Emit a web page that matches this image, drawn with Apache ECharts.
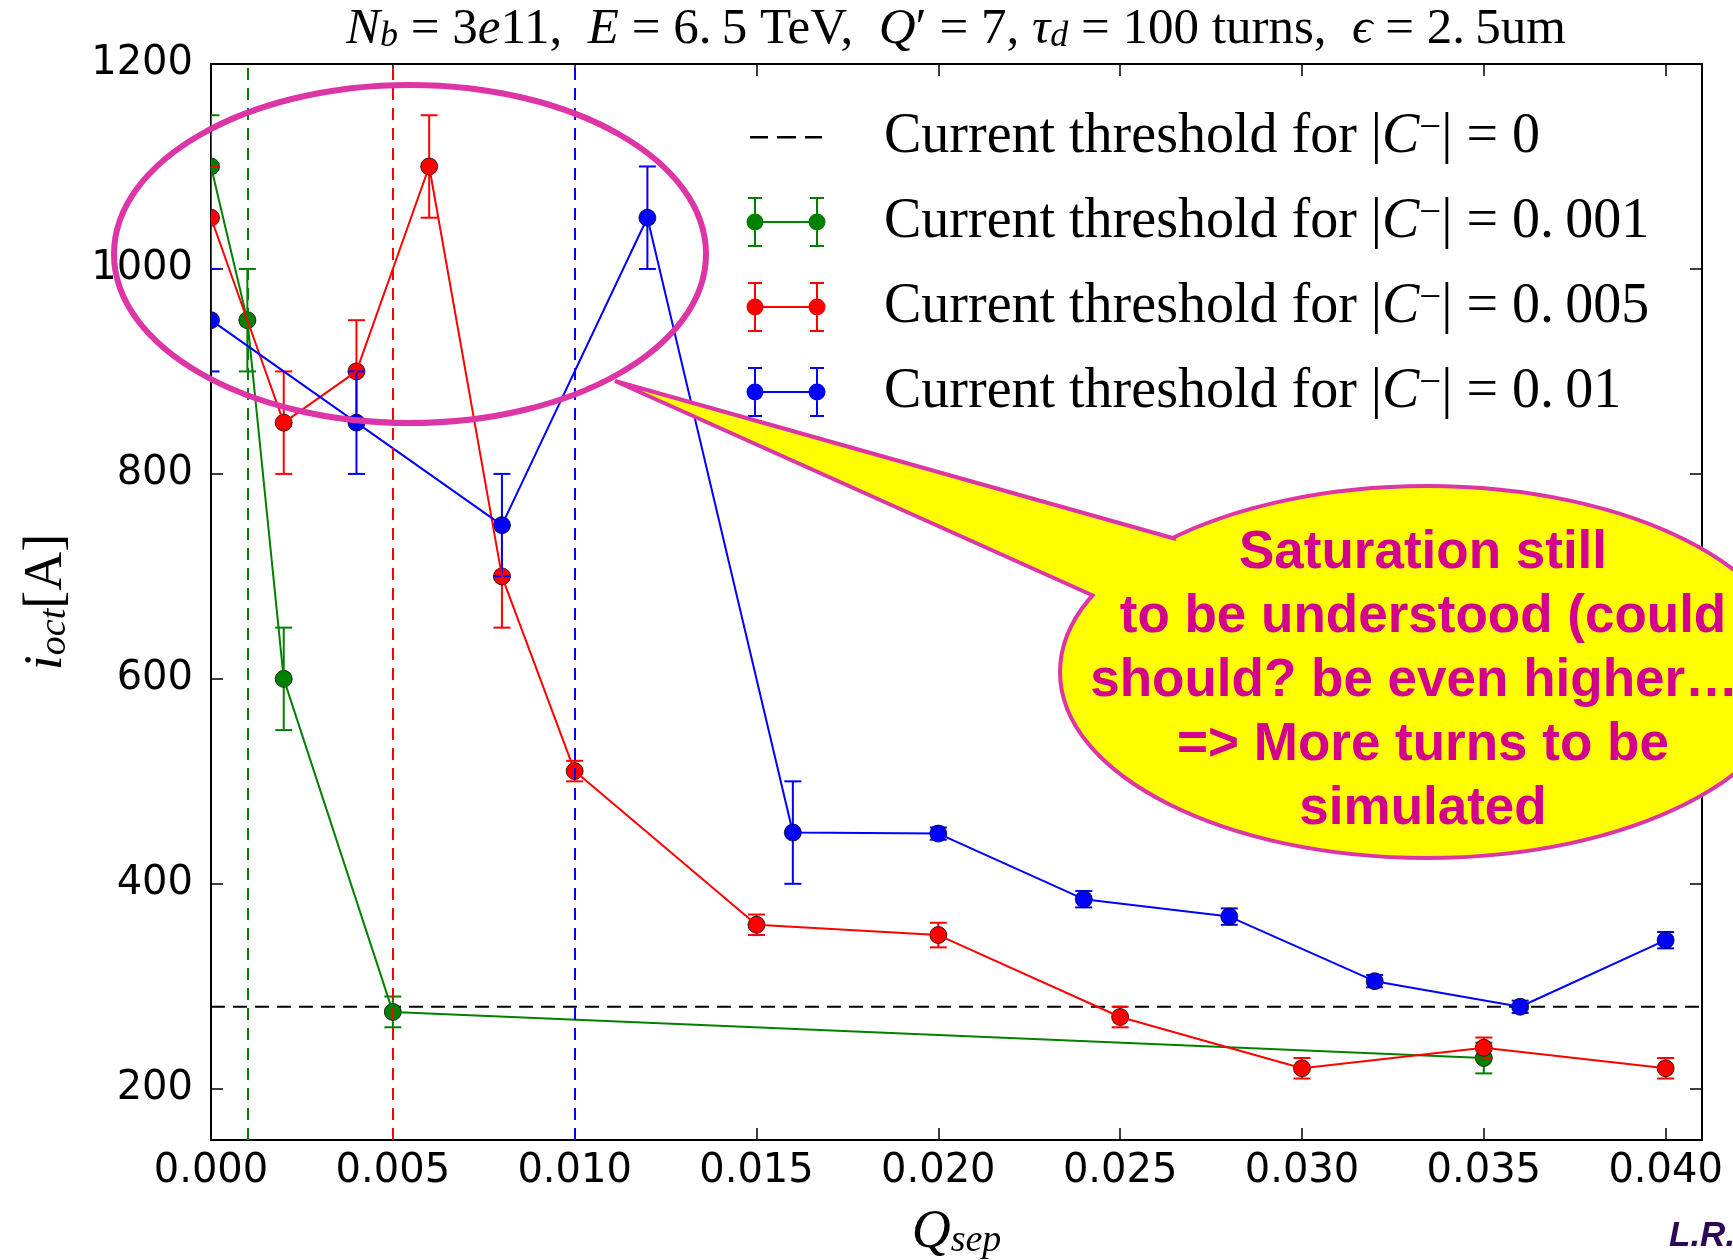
<!DOCTYPE html>
<html>
<head>
<meta charset="utf-8">
<script src="https://cdn.jsdelivr.net/npm/echarts@6/dist/echarts.min.js"></script>
<style>
  html, body { margin: 0; padding: 0; background: #ffffff; }
  #chart { width: 1733px; height: 1260px; }
</style>
</head>
<body>
<div id="chart"></div>
<script>
// Octupole current threshold i_oct versus tune separation Q_sep,
// one curve per residual coupling |C-|, with error bars.

// |C-| = 0.001
const qSep001 = [0, 0.001, 0.002, 0.005, 0.035];
const iOct001 = [1100, 950, 600, 275, 230];
const err001  = [50, 50, 50, 15, 15];

// |C-| = 0.005
const qSep005 = [0, 0.002, 0.004, 0.006, 0.008, 0.010, 0.015, 0.020, 0.025, 0.030, 0.035, 0.040];
const iOct005 = [1050, 850, 900, 1100, 700, 510, 360, 350, 270, 220, 240, 220];
const err005  = [50, 50, 50, 50, 50, 10, 10, 12, 10, 10, 10, 10];

// |C-| = 0.01
const qSep01 = [0, 0.004, 0.008, 0.012, 0.016, 0.020, 0.024, 0.028, 0.032, 0.036, 0.040];
const iOct01 = [950, 850, 750, 1050, 450, 449, 385, 368, 305, 280, 345];
const err01  = [50, 50, 50, 50, 50, 6, 8, 8, 6, 6, 8];

// threshold without coupling, and the coupling values marked as vertical lines
const thresholdZero = 280;
const couplingValues = [0.001, 0.005, 0.010];

// axes
const xRange = [0, 0.041];
const yRange = [150, 1200];
const xTicks = [0, 0.005, 0.010, 0.015, 0.020, 0.025, 0.030, 0.035, 0.040];
const yTicks = [200, 400, 600, 800, 1000, 1200];

// legend labels
const legendValues = ['0', '0.001', '0.005', '0.01'];
const seriesColors = ['#000000', '#008000', '#ff0000', '#0000ff'];

// annotation text
const calloutLines = [
  'Saturation still',
  'to be understood (could',
  'should? be even higher\u2026)',
  '=> More turns to be',
  'simulated'
];
const authorTag = 'L.R.';

const legendNames = legendValues.map(v => 'Current threshold for |C\u2212| = ' + v);

const SERIF = 'Liberation Serif';
const SANS = 'DejaVu Sans';
const MAGENTA = '#dd35a6';
const TEXT_MAGENTA = '#d4008e';

// math-like rich text styles: main tokens and sub/superscripts
function mathStyles(F, mode) {
  const base = { fontFamily: SERIF, fontSize: F, lineHeight: F, color: '#000', fontWeight: 'normal' };
  if (mode === 'sub') {
    return {
      rm: Object.assign({}, base, { verticalAlign: 'top' }),
      it: Object.assign({}, base, { verticalAlign: 'top', fontStyle: 'italic' }),
      sub: Object.assign({}, base, {
        fontSize: Math.round(F * 0.7), lineHeight: Math.round(F * 0.7),
        fontStyle: 'italic', verticalAlign: 'bottom',
        padding: [Math.round(F * 0.46), 0, 0, 0]
      })
    };
  }
  return {
    rm: Object.assign({}, base, { verticalAlign: 'bottom' }),
    it: Object.assign({}, base, { verticalAlign: 'bottom', fontStyle: 'italic' }),
    sup: Object.assign({}, base, {
      fontSize: Math.round(F * 0.7), lineHeight: Math.round(F * 0.7),
      verticalAlign: 'top', padding: [0, 0, Math.round(F * 0.46), 0]
    })
  };
}

function pairs(xs, ys) { return xs.map((x, i) => [x, ys[i]]); }
function triples(xs, ys, es) { return xs.map((x, i) => [x, ys[i], es[i]]); }

// error bar with caps plus round marker, clipped to the plot area
function errorBarRenderer(color) {
  return function (params, api) {
    const x = api.value(0), y = api.value(1), e = api.value(2);
    const hi = api.coord([x, y + e]);
    const lo = api.coord([x, y - e]);
    const c = api.coord([x, y]);
    const cs = params.coordSys;
    const cap = 8.5;
    const ls = { stroke: color, lineWidth: 2 };
    return {
      type: 'group',
      clipPath: { type: 'rect', shape: { x: cs.x, y: cs.y, width: cs.width, height: cs.height } },
      children: [
        { type: 'line', shape: { x1: hi[0], y1: hi[1], x2: lo[0], y2: lo[1] }, style: ls },
        { type: 'line', shape: { x1: hi[0] - cap, y1: hi[1], x2: hi[0] + cap, y2: hi[1] }, style: ls },
        { type: 'line', shape: { x1: lo[0] - cap, y1: lo[1], x2: lo[0] + cap, y2: lo[1] }, style: ls },
        { type: 'circle', shape: { cx: c[0], cy: c[1], r: 8.5 },
          style: { fill: color, stroke: 'rgba(0,0,0,0.75)', lineWidth: 1 } }
      ]
    };
  };
}

function curve(name, color, xs, ys, es) {
  return [
    {
      type: 'line', name: name, data: pairs(xs, ys), xAxisIndex: 0, yAxisIndex: 0,
      showSymbol: false, symbol: 'none', color: color, z: 3,
      lineStyle: { color: color, width: 2 }, silent: true
    },
    {
      type: 'custom', name: name, data: triples(xs, ys, es), xAxisIndex: 0, yAxisIndex: 0,
      renderItem: errorBarRenderer(color), clip: true, z: 3, silent: true,
      encode: { x: 0, y: 1 }
    }
  ];
}

// legend icons (80 x 50 box)
const errorBarIcon = 'path://M0 0M80 50' +
  'M9 24h62v2H9z' +
  'M8 0h2v50H8z M70 0h2v50h-2z' +
  'M2 0h14v2H2z M2 48h14v2H2z M64 0h14v2H64z M64 48h14v2H64z' +
  'M17.5 25A8.5 8.5 0 1 1 0.5 25A8.5 8.5 0 1 1 17.5 25z' +
  'M79.5 25A8.5 8.5 0 1 1 62.5 25A8.5 8.5 0 1 1 79.5 25z';
const dashedIcon = 'path://M0 0M80 50' +
  'M4 24h18v2.5H4z M31 24h19v2.5H31z M59 24h17v2.5H59z';

const axisLineStyle = { color: '#000', width: 2 };
const tickStyle = { color: '#000', width: 1.5 };

const option = {
  animation: false,
  backgroundColor: '#ffffff',
  title: {
    text: '{it|N}{sub|b}{rm| = 3}{it|e}{rm|11,  }{it|E}{rm| = 6.\u20095 TeV,  }{it|Q}{rm|\u2032 = 7, }' +
          '{it|\u03c4}{sub|d}{rm| = 100 turns,  }{it|\u03f5}{rm| = 2.\u20095um}',
    left: 956, top: 4, padding: 0, textAlign: 'center',
    textStyle: { fontWeight: 'normal', rich: mathStyles(51, 'sub') }
  },
  grid: { left: 211, right: 31, top: 64, bottom: 120, containLabel: false, outerBoundsMode: 'none' },
  legend: {
    orient: 'vertical', left: 746, top: 109, padding: 0,
    itemWidth: 80, itemHeight: 50, itemGap: 20,
    selectedMode: false,
    itemStyle: { borderWidth: 0 },
    data: legendNames.map((n, i) => ({ name: n, icon: i === 0 ? dashedIcon : errorBarIcon })),
    formatter: function (name) {
      const v = name.split('= ')[1].replace('.', '.\u2009');
      return '{rm|Current threshold for |}{it|C}{sup|\u2212}{rm|| = ' + v + '}';
    },
    textStyle: { padding: [0, 0, 0, 53], rich: mathStyles(56, 'sup') }
  },
  xAxis: [
    {
      type: 'value', position: 'bottom', min: xRange[0], max: xRange[1],
      axisLine: { show: true, onZero: false, lineStyle: axisLineStyle },
      axisTick: { show: true, inside: true, length: 12, lineStyle: tickStyle, customValues: xTicks },
      axisLabel: {
        customValues: xTicks, formatter: v => v.toFixed(3), margin: 12,
        color: '#000', fontFamily: SANS, fontSize: 40
      },
      splitLine: { show: false },
      name: '{it|Q}{sub|sep}', nameLocation: 'middle', nameGap: 60,
      nameTextStyle: { rich: mathStyles(54, 'sub') }
    },
    {
      type: 'value', position: 'top', min: xRange[0], max: xRange[1],
      axisLine: { show: true, onZero: false, lineStyle: axisLineStyle },
      axisTick: { show: true, inside: true, length: 12, lineStyle: tickStyle, customValues: xTicks },
      axisLabel: { show: false }, splitLine: { show: false }
    }
  ],
  yAxis: [
    {
      type: 'value', position: 'left', min: yRange[0], max: yRange[1],
      axisLine: { show: true, onZero: false, lineStyle: axisLineStyle },
      axisTick: { show: true, inside: true, length: 12, lineStyle: tickStyle, customValues: yTicks },
      axisLabel: {
        customValues: yTicks, formatter: v => String(v), margin: 18,
        color: '#000', fontFamily: SANS, fontSize: 40
      },
      splitLine: { show: false },
      name: '{it|i}{sub|oct}{rm|[A]}', nameLocation: 'middle', nameRotate: 90, nameGap: 137,
      nameTextStyle: { rich: mathStyles(54, 'sub') }
    },
    {
      type: 'value', position: 'right', min: yRange[0], max: yRange[1],
      axisLine: { show: true, onZero: false, lineStyle: axisLineStyle },
      axisTick: { show: true, inside: true, length: 12, lineStyle: tickStyle, customValues: yTicks },
      axisLabel: { show: false }, splitLine: { show: false }
    }
  ],
  series: [
    {
      type: 'line', name: legendNames[0], data: [[xRange[0], thresholdZero], [xRange[1], thresholdZero]],
      xAxisIndex: 0, yAxisIndex: 0, showSymbol: false, symbol: 'none', color: seriesColors[0], z: 2,
      lineStyle: { color: seriesColors[0], width: 2, type: [14, 8] }, silent: true,
      markLine: {
        silent: true, symbol: ['none', 'none'], label: { show: false }, precision: 6,
        data: couplingValues.map((v, i) => ({
          xAxis: v, lineStyle: { color: seriesColors[i + 1], width: 2, type: [12, 8] }
        }))
      }
    },
    ...curve(legendNames[1], seriesColors[1], qSep001, iOct001, err001),
    ...curve(legendNames[2], seriesColors[2], qSep005, iOct005, err005),
    ...curve(legendNames[3], seriesColors[3], qSep01, iOct01, err01)
  ],
  graphic: [
    // highlight ring around the low-separation region
    {
      type: 'ellipse', z: 100, silent: true,
      shape: { cx: 410, cy: 254, rx: 296, ry: 169 },
      style: { fill: null, stroke: MAGENTA, lineWidth: 6 }
    },
    // speech bubble
    {
      type: 'ellipse', z: 101, silent: true,
      shape: { cx: 1427, cy: 672, rx: 367, ry: 186 },
      style: { fill: '#ffff00', stroke: MAGENTA, lineWidth: 4 }
    },
    {
      type: 'polygon', z: 102, silent: true,
      shape: { points: [[615, 381], [1174, 540], [1230, 630], [1096, 595]] },
      style: { fill: '#ffff00' }
    },
    {
      type: 'polyline', z: 103, silent: true,
      shape: { points: [[1176, 539], [615, 381], [1094, 596]] },
      style: { stroke: MAGENTA, lineWidth: 4, fill: null, lineJoin: 'miter' }
    },
    {
      type: 'text', z: 104, silent: true,
      x: 1423, y: 681,
      style: {
        text: calloutLines.join('\n'), fill: TEXT_MAGENTA,
        font: 'bold 53px "Liberation Sans", Arial, sans-serif',
        align: 'center', verticalAlign: 'middle', lineHeight: 64
      }
    },
    {
      type: 'text', z: 104, silent: true,
      x: 1669, y: 1236,
      style: {
        text: authorTag, fill: '#2e0854',
        font: 'italic bold 35px "Liberation Sans", Arial, sans-serif',
        align: 'left', verticalAlign: 'middle'
      }
    }
  ]
};

const chart = echarts.init(document.getElementById('chart'), null, { renderer: 'canvas' });
chart.setOption(option);
</script>
</body>
</html>
